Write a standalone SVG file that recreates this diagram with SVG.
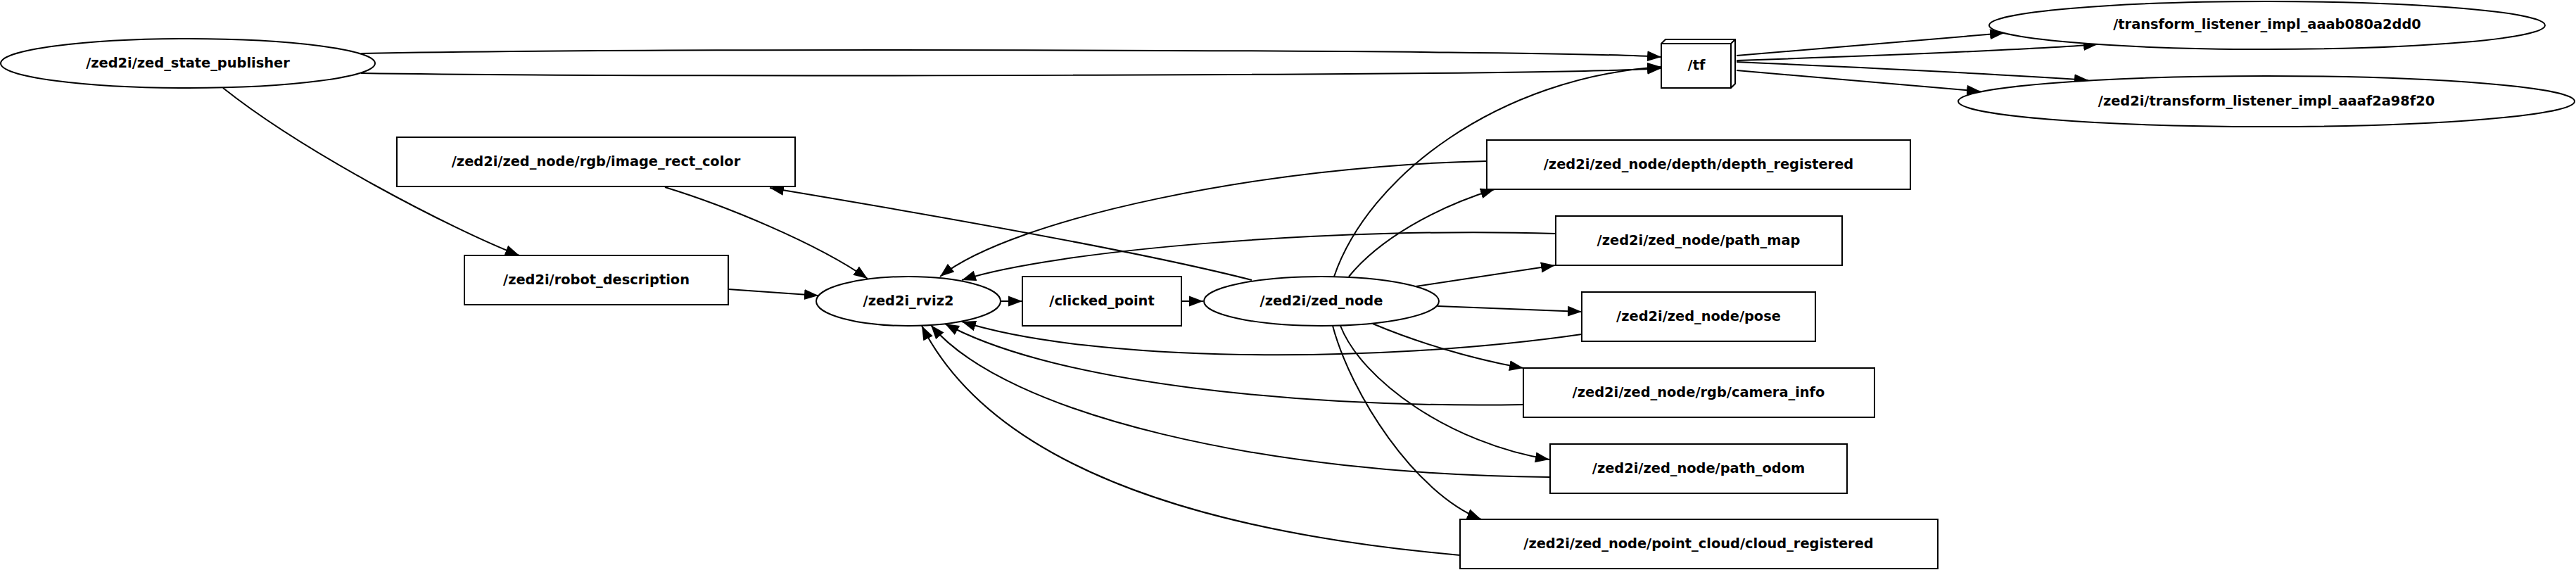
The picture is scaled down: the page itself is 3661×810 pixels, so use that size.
<svg xmlns="http://www.w3.org/2000/svg" width="3661" height="810" viewBox="0 0 3661 810">
<style>
.n ellipse, .n rect, .n path.o { fill: #fff; stroke: #000; stroke-width: 2; }
.n path.l { fill: none; stroke: #000; stroke-width: 2; }
.n text { font-family: "DejaVu Sans", "Liberation Sans", sans-serif; font-weight: bold; font-size: 19.4px; text-anchor: middle; fill: #000; }
#edges path { fill: none; stroke: #000; stroke-width: 2; marker-end: url(#arr); }
</style>
<defs>
<marker id="arr" markerUnits="userSpaceOnUse" markerWidth="20" markerHeight="16" viewBox="0 0 20 16" refX="20" refY="8" orient="auto">
<path d="M0,0.5 L20,8 L0,15.5 Z" fill="#000"/>
</marker>
</defs>
<rect x="0" y="0" width="3661" height="810" fill="#fff"/>

<g id="edges">
<path d="M513,76 C 900,68 2200,70 2361,81"/>
<path d="M513,104 C 900,110 2200,108 2361,97"/>
<path d="M317,125 C 430,215 640,325 738,363"/>
<path d="M945,266 C 1030,292 1160,345 1233,396"/>
<path d="M1035,411 L1163,420"/>
<path d="M1423,428 L1453,428"/>
<path d="M1679,428 L1710,428"/>
<path d="M1779,398 C 1650,365 1400,318 1094,267"/>
<path d="M1896,393 C 1945,250 2130,110 2361,95"/>
<path d="M1917,393 C 1960,340 2040,295 2124,269"/>
<path d="M2113,229 C 1800,235 1440,310 1336,393"/>
<path d="M2012,407 L2210,377"/>
<path d="M2211,332 C 1900,322 1500,355 1367,398"/>
<path d="M2043,435 L2248,443"/>
<path d="M2248,475 C 1950,518 1550,515 1367,457"/>
<path d="M1951,460 C 2010,485 2090,510 2165,523"/>
<path d="M2165,575 C 1850,580 1500,545 1343,460"/>
<path d="M1905,463 C 1935,540 2060,630 2202,653"/>
<path d="M2202,678 C 1800,675 1430,590 1323,462"/>
<path d="M1894,463 C 1920,560 2010,700 2105,738"/>
<path d="M2075,789 C 1750,760 1420,680 1310,463"/>
<path d="M2468,79 L2848,47"/>
<path d="M2468,86 C 2700,78 2880,71 2981,63"/>
<path d="M2468,88 C 2650,96 2850,106 2968,114"/>
<path d="M2468,100 L2815,130"/>
</g>

<g id="n_state_publisher" class="n">
<ellipse cx="267" cy="90" rx="266" ry="35"/>
<text x="267" y="96">/zed2i/zed_state_publisher</text>
</g>
<g id="n_image_rect_color" class="n">
<rect x="564" y="195" width="566" height="70"/>
<text x="847" y="236">/zed2i/zed_node/rgb/image_rect_color</text>
</g>
<g id="n_robot_description" class="n">
<rect x="660" y="363" width="375" height="70"/>
<text x="847.5" y="404">/zed2i/robot_description</text>
</g>
<g id="n_rviz2" class="n">
<ellipse cx="1291" cy="428" rx="131" ry="35"/>
<text x="1291" y="434">/zed2i_rviz2</text>
</g>
<g id="n_clicked_point" class="n">
<rect x="1453" y="393" width="226" height="70"/>
<text x="1566" y="434">/clicked_point</text>
</g>
<g id="n_zed_node" class="n">
<ellipse cx="1878" cy="428" rx="167" ry="35"/>
<text x="1878" y="434">/zed2i/zed_node</text>
</g>
<g id="n_tf" class="n">
<path class="o" d="M2361,62 L2367,56 L2466,56 L2466,119 L2460,125 L2361,125 Z"/>
<path class="l" d="M2361,62 L2460,62 L2466,56 M2460,62 L2460,125"/>
<text x="2411" y="99">/tf</text>
</g>
<g id="n_tl_aaab080a2dd0" class="n">
<ellipse cx="3222" cy="36" rx="395" ry="34"/>
<text x="3222" y="41">/transform_listener_impl_aaab080a2dd0</text>
</g>
<g id="n_tl_aaaf2a98f20" class="n">
<ellipse cx="3221" cy="144" rx="438" ry="36"/>
<text x="3221" y="150">/zed2i/transform_listener_impl_aaaf2a98f20</text>
</g>
<g id="n_depth_registered" class="n">
<rect x="2113" y="199" width="602" height="70"/>
<text x="2414" y="240">/zed2i/zed_node/depth/depth_registered</text>
</g>
<g id="n_path_map" class="n">
<rect x="2211" y="307" width="407" height="70"/>
<text x="2414" y="348">/zed2i/zed_node/path_map</text>
</g>
<g id="n_pose" class="n">
<rect x="2248" y="415" width="332" height="70"/>
<text x="2414" y="456">/zed2i/zed_node/pose</text>
</g>
<g id="n_camera_info" class="n">
<rect x="2165" y="523" width="499" height="70"/>
<text x="2414" y="564">/zed2i/zed_node/rgb/camera_info</text>
</g>
<g id="n_path_odom" class="n">
<rect x="2203" y="631" width="422" height="70"/>
<text x="2414" y="672">/zed2i/zed_node/path_odom</text>
</g>
<g id="n_cloud_registered" class="n">
<rect x="2075" y="738" width="679" height="70"/>
<text x="2414" y="779">/zed2i/zed_node/point_cloud/cloud_registered</text>
</g>
</svg>
